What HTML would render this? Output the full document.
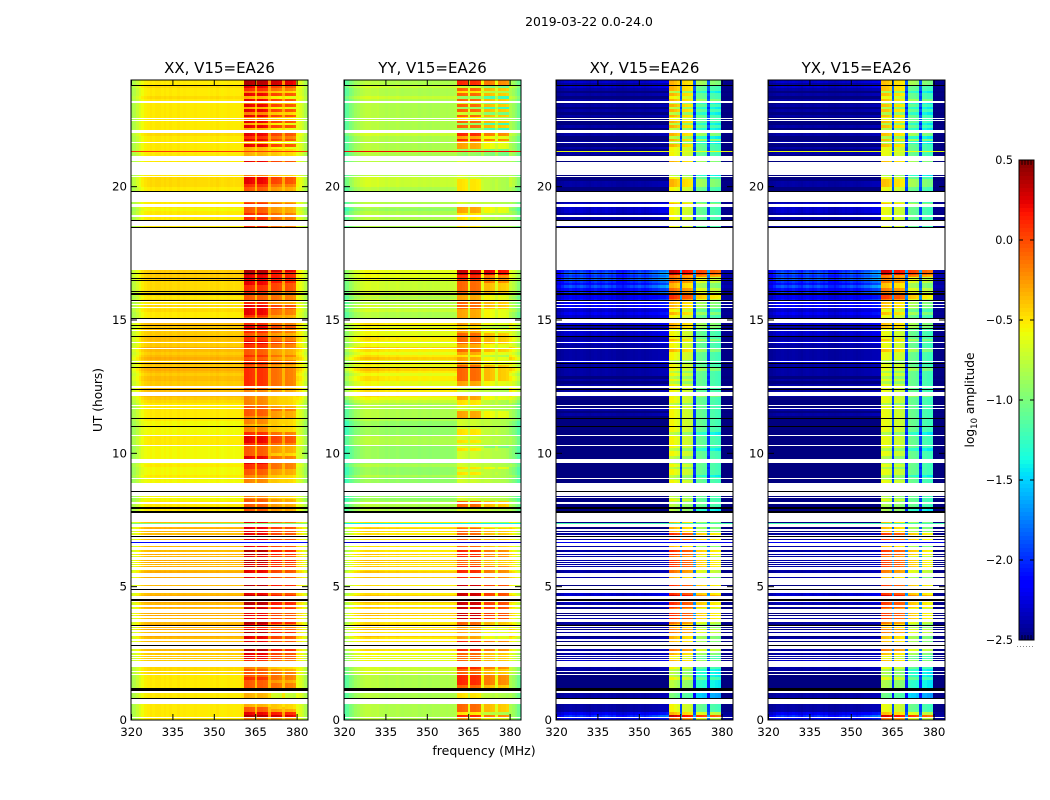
<!DOCTYPE html>
<html>
<head>
<meta charset="utf-8">
<title>2019-03-22 0.0-24.0</title>
<style>
html,body{margin:0;padding:0;background:#fff;width:1050px;height:800px;overflow:hidden}
svg{display:block}
text{font-family:"DejaVu Sans","Liberation Sans",sans-serif;fill:#000}
</style>
</head>
<body>
<svg id="chart" xmlns="http://www.w3.org/2000/svg" width="1050" height="800" viewBox="0 0 1050 800">
  <text x="589" y="26" font-size="12.4" text-anchor="middle">2019-03-22 0.0-24.0</text>
  <text x="0" y="0" font-size="12.2" text-anchor="middle" transform="translate(102,400) rotate(-90)">UT (hours)</text>
  <text x="484" y="755" font-size="12.5" text-anchor="middle">frequency (MHz)</text>
  <text x="0" y="0" font-size="12.2" text-anchor="middle" transform="translate(974,400) rotate(-90)">log<tspan font-size="8.5" dy="3">10</tspan><tspan dy="-3"> amplitude</tspan></text>
  <g id="panels"></g>
  <g id="colorbar"></g>
</svg>
<script>
// ---- axes ----
const xTickValues = [320, 335, 350, 365, 380];
const yTickValues = [0, 5, 10, 15, 20];
const colorbarTicks = [-2.5, -2, -1.5, -1, -0.5, 0, 0.5];
const colorbarLabels = ["\u22122.5", "\u22122.0", "\u22121.5", "\u22121.0", "\u22120.5", "0.0", "0.5"];
const panelTitles = ["XX, V15=EA26", "YY, V15=EA26", "XY, V15=EA26", "YX, V15=EA26"];
const channelKinds = "eeeeeeeeeeeeeeeeeeeeeeeeeeeeeeeeeeeeeeeeeaaaagaaaagbbbbgbbbbeeeee";

// ---- log10 amplitude by channel (baseline spectra) ----
const xxSpectrum = [-.85,-.8,-.72,-.65,-.58,-.54,-.52,-.5,-.52,-.5,-.5,-.52,-.5,-.52,-.5,-.52,-.52,-.5,-.52,-.51,-.52,-.52,-.52,-.51,-.52,-.52,-.52,-.52,-.53,-.51,-.52,-.5,-.52,-.53,-.52,-.51,-.52,-.53,-.52,-.52,-.5,-.18,-.18,-.2,-.22,-.42,-.2,-.2,-.22,-.24,-.42,-.26,-.26,-.28,-.3,-.45,-.3,-.32,-.32,-.36,-.6,-.65,-.72,-.82,-.92];
const yySpectrum = [-1.15,-1.1,-1,-.95,-.88,-.85,-.8,-.78,-.76,-.76,-.78,-.78,-.76,-.8,-.8,-.82,-.8,-.82,-.82,-.8,-.82,-.83,-.82,-.82,-.83,-.82,-.82,-.84,-.83,-.82,-.83,-.84,-.82,-.83,-.83,-.82,-.82,-.83,-.82,-.82,-.8,-.48,-.48,-.5,-.52,-.72,-.5,-.5,-.52,-.54,-.72,-.55,-.55,-.58,-.6,-.75,-.6,-.62,-.62,-.65,-.82,-.88,-.95,-1.05,-1.15];
const xySpectrum = [-2.5,-2.5,-2.5,-2.5,-2.5,-2.5,-2.5,-2.5,-2.5,-2.5,-2.5,-2.5,-2.5,-2.5,-2.5,-2.5,-2.5,-2.5,-2.5,-2.5,-2.5,-2.5,-2.5,-2.5,-2.5,-2.5,-2.5,-2.5,-2.5,-2.5,-2.5,-2.5,-2.5,-2.5,-2.5,-2.5,-2.5,-2.5,-2.5,-2.5,-2.5,-.55,-.55,-.6,-.65,-1.9,-.68,-.7,-.72,-.75,-1.95,-.85,-.85,-.88,-.9,-1.95,-.95,-.95,-.98,-1,-2.5,-2.5,-2.5,-2.5,-2.5];
const yxSpectrum = [-2.5,-2.5,-2.5,-2.5,-2.5,-2.5,-2.5,-2.5,-2.5,-2.5,-2.5,-2.5,-2.5,-2.5,-2.5,-2.5,-2.5,-2.5,-2.5,-2.5,-2.5,-2.5,-2.5,-2.5,-2.5,-2.5,-2.5,-2.5,-2.5,-2.5,-2.5,-2.5,-2.5,-2.5,-2.5,-2.5,-2.5,-2.5,-2.5,-2.5,-2.5,-.6,-.6,-.62,-.66,-1.9,-.7,-.7,-.74,-.76,-1.95,-.82,-.85,-.86,-.9,-1.95,-.96,-.96,-1,-1.02,-2.5,-2.5,-2.5,-2.5,-2.5];
const crossTexture = [.5,.6,.8,1,1,1.1,1,.9,1,1.1,1,.9,.8,1,1.1,1,.9,1,1.1,1,.9,1,.8,.8,.7,.8,.9,1,.9,1,1.1,1,.9,1,1.1,1.2,1.2,1.3,1.4,1.4,1.5,1,1,1,1,1,1,1,1,1,1,1,1,1,1,1,1,1,1,1,.25,.2,.2,.2,.2];

// ---- per-row levels: one string per hour, ten rows per string ----
const coLeftRows = ["5555555555","5555555666","7777778888","8989898989","9898989898","8989898989","9898989898","8989898555","5544444444","4544454444","4445555444","4455555556","7888877887","8978798789","7788778787","5556565656","6666677777","5555555555","5555555555","5455555455","6666555555","5555555556","5555555555","5556555655"];
const xxBlockA = ["5986643344","5566676665","7778889988","8898789988","8989999898","9988788989","8899889898","8888877665","6665655555","5566778886","6667888755","4555666655","5555677777","7767767667","7877677877","6788887666","7778888999","5555555555","5555577777","6667666666","7888555578","4444484878","8484858584","8584857899"];
const xxBlockB = ["5985443322","4566566654","6667778877","7787668877","8878888787","8877677878","7788778787","7777665554","5554544444","4455666664","5556777644","4445556544","4445566666","6656656556","6766566766","5566775666","6777888899","5555555555","4444466666","5556555555","6777444467","4444373767","7373747473","7473746799"];
const yyBlockA = ["6857775555","5778888778","7777778888","6666677899","9999999999","9988888877","8888877777","7766555447","7744444444","4454544544","4544544554","4446664455","6644466777","7776665676","6777766565","6666777666","7777788999","5555555555","4444455555","6664444455","5554444444","3333666868","7373757473","7473757488"];
const yyBlockB = ["5746664444","4667777667","6666667777","5555566788","8888888888","8877777766","7777766666","6655444446","6644444444","4444544444","4434444444","4445554444","5544455666","6665554565","5666655454","5555666555","6666777999","5555555555","4444444444","5554444444","4444444444","3333555757","6262646362","6362646377"];
const crossLeftRows = ["3531111111","0000000011","2221111000","1010101010","1011222224","0011111111","0111111111","0000000000","0000000000","0000000000","0000000000","0000101000","0101010101","1111211111","1211221122","2232333433","5464565655","0000000000","1100011111","2222111100","1100000000","0010101001","1010001010","1010101212"];
const crossBlockA = ["7965554433","3344454445","5565667766","6677667788","8788899888","8866777888","7788667878","6666655444","4454444455","4455454545","5455555455","5555555545","5555554545","4555455565","5565555666","5565666788","7766777999","5555555555","4444455555","5556555555","6665455566","4555564646","6464656464","6465646666"];
const crossBlockB = ["6964443322","2233343334","4454556655","5566556677","7677788777","7755666777","6677556767","5555544333","4444444444","4344444444","4344444344","4444444444","4544444444","4544444454","4454444555","4454555677","6655668999","5555555555","3333344444","4445444444","5554344455","3444443535","4343444343","4354434455"];

// ---- flagged time ranges and lines, in UT hours ----
const flaggedRanges = [[.08,.1],[.61,.8],[1.02,1.08],[1.69,1.73],[1.8,1.83],[1.99,2.21],[2.26,2.3],[2.34,2.37],[2.43,2.45],[2.5,2.57],[2.67,2.91],[2.95,3.03],[3.15,3.25],[3.29,3.39],[3.41,3.44],[3.5,3.54],[3.69,3.79],[3.81,3.9],[3.94,3.96],[4,4.17],[4.24,4.3],[4.41,4.66],[4.77,5.03],[5.06,5.34],[5.36,5.52],[5.64,5.74],[5.78,5.82],[5.85,5.89],[5.93,5.96],[6.01,6.1],[6.14,6.2],[6.24,6.3],[6.39,6.48],[6.53,6.59],[6.63,6.65],[6.675,6.74],[6.77,6.87],[6.9,6.95],[7,7.04],[7.1,7.16],[7.24,7.39],[7.43,7.77],[8.11,8.16],[8.34,8.36],[8.41,8.56],[8.59,8.89],[9.03,9.06],[9.65,9.68],[9.69,9.78],[10.29,10.31],[10.66,10.69],[11.67,11.71],[11.78,11.81],[12.16,12.31],[12.46,12.51],[13.43,13.45],[13.91,13.94],[14.15,14.18],[14.6,14.63],[14.88,15.05],[15.46,15.49],[15.57,15.6],[15.68,15.72],[16.875,18.46],[18.53,18.71],[18.85,18.93],[19.24,19.3],[19.33,19.36],[19.41,19.79],[20.36,20.39],[20.43,20.925],[20.96,21.15],[21.63,21.66],[22.02,22.07],[22.13,22.14],[22.46,22.5],[22.52,22.56],[23.13,23.2]];
const blackLineHours = [.81,2.79,3.55,4.9,6.89,8.58,11.01,11.31,12.4,13.23,13.36,14.39,14.67,14.78,15.06,15.72,15.94,16.01,16.06,16.49,16.56,16.75,18.48,18.74,19.83,23.8];
const blackBands = [[1.07,1.2],[4.47,4.54],[7.78,7.85],[7.91,7.98]];
const oddRowHours = [6.66, 7.36, 21.32];
const xxOddRows = [-2.1, -1, .05];
const yyOddRows = [-2.3, -1.4, .2];
const xyOddRows = [-2.2, -1.2, -.6];
const yxOddRows = [-2.2, -1.2, -.6];

// ---- layout and scales ----
const SVGNS = "http://www.w3.org/2000/svg";
const panelLeft = [131, 344, 556, 768];
const panelWidth = 177, axisTop = 80, axisBottom = 720;
function xScale(f, left) { return left + 0.5 + (f - 320) * 2.76; }
function yScale(h) { return axisBottom - h * (axisBottom - axisTop) / 24; }
function cbarY(v) { return 640 - (v + 2.5) * 160; }
function clamp(x) { return Math.max(0, Math.min(1, x)); }
function interp(t, pts) {
  for (let i = 1; i < pts.length; i++) {
    if (t <= pts[i][0]) {
      const a = pts[i - 1], b = pts[i];
      return a[1] + (b[1] - a[1]) * (t - a[0]) / (b[0] - a[0]);
    }
  }
  return pts[pts.length - 1][1];
}
function jet(v) {
  const t = clamp((v + 2.5) / 3);
  const r = interp(t, [[0,0],[.35,0],[.66,1],[.89,1],[1,.5]]);
  const g = interp(t, [[0,0],[.125,0],[.375,1],[.64,1],[.91,0],[1,0]]);
  const b = interp(t, [[0,.5],[.11,1],[.34,1],[.65,0],[1,0]]);
  return "rgb(" + Math.round(r * 255) + "," + Math.round(g * 255) + "," + Math.round(b * 255) + ")";
}
function digit(rows, r) {
  return +rows[Math.floor(r / 10)].charAt(r % 10);
}
function make(tag, attrs, parent) {
  const el = document.createElementNS(SVGNS, tag);
  for (const k in attrs) el.setAttribute(k, attrs[k]);
  parent.appendChild(el);
  return el;
}

// value of a cell for each polarisation
function cellValue(p, r, i) {
  const kind = channelKinds.charAt(i);
  const spectrum = [xxSpectrum, yySpectrum, xySpectrum, yxSpectrum][p];
  if (p < 2) {
    const left = digit(coLeftRows, r) - 5;
    const scale = p === 0 ? .05 : .1;
    const A = p === 0 ? xxBlockA : yyBlockA;
    const B = p === 0 ? xxBlockB : yyBlockB;
    const step = p === 0 ? .14 : .2;
    if (kind === "e") return spectrum[i] + left * scale;
    if (kind === "a") return spectrum[i] + (digit(A, r) - 5) * step;
    if (kind === "b") return spectrum[i] + (digit(B, r) - 5) * step;
    return spectrum[i] + (digit(A, r) - 5) * .05;
  }
  if (kind === "e") return spectrum[i] + digit(crossLeftRows, r) * .1 * crossTexture[i];
  if (kind === "a") return spectrum[i] + (digit(crossBlockA, r) - 5) * .22;
  if (kind === "b") return spectrum[i] + (digit(crossBlockB, r) - 5) * .22;
  return spectrum[i] + (digit(crossBlockA, r) - 5) * .08;
}

const panelsRoot = document.getElementById("panels");
const defs = make("defs", {}, panelsRoot);

panelTitles.forEach(function (title, p) {
  const L = panelLeft[p], R = L + panelWidth;
  const g = make("g", {}, panelsRoot);
  
  

  const clip = make("clipPath", { id: "clip" + p }, defs);
  make("rect", { x: L, y: axisTop, width: panelWidth, height: axisBottom - axisTop }, clip);

  const heat = make("g", { "clip-path": "url(#clip" + p + ")", "shape-rendering": "crispEdges" }, g);
  
  

  // heatmap cells, merged along a row where neighbouring cells share a colour
  const rowCount = 240, chanCount = channelKinds.length;
  for (let r = 0; r < rowCount; r++) {
    const yTop = Math.round(yScale((r + 1) / 10)), yBot = Math.round(yScale(r / 10));
    let start = 0, col = jet(cellValue(p, r, 0));
    for (let i = 1; i <= chanCount; i++) {
      const c = i < chanCount ? jet(cellValue(p, r, i)) : null;
      if (c !== col) {
        const x0 = Math.round(xScale(319.6 + start, L)), x1 = Math.round(xScale(319.6 + i, L));
        const cell = make("rect", { x: x0, y: yTop, width: x1 - x0, height: yBot - yTop, fill: col }, heat);
        
        
        start = i; col = c;
      }
    }
  }

  // flagged (white) ranges
  flaggedRanges.forEach(function (rg) {
    const yTop = Math.round(yScale(rg[1]));
    const h = Math.max(1, Math.round(yScale(rg[0])) - yTop);
    const band = make("rect", { x: L, y: yTop, width: panelWidth, height: h, fill: "#fff" }, heat);
    
    
  });

  // single outlier rows
  const oddValues = [xxOddRows, yyOddRows, xyOddRows, yxOddRows][p];
  oddRowHours.forEach(function (h, k) {
    const line = make("rect", { x: L, y: Math.floor(yScale(h)), width: panelWidth, height: 1, fill: jet(oddValues[k]) }, heat);
    
    
  });

  // black lines
  blackLineHours.forEach(function (h) {
    const line = make("rect", { x: L, y: Math.floor(yScale(h)), width: panelWidth, height: 1, fill: "#000" }, heat);
    
    
  });
  blackBands.forEach(function (b) {
    const yTop = Math.round(yScale(b[1]));
    const band = make("rect", { x: L, y: yTop, width: panelWidth, height: Math.max(1, Math.round(yScale(b[0])) - yTop), fill: "#000" }, heat);
    
    
  });

  // frame
  const frame = make("rect", { x: L, y: axisTop, width: panelWidth, height: axisBottom - axisTop, fill: "none", stroke: "#000", "stroke-width": 1 }, g);
  
  

  // x ticks
  xTickValues.forEach(function (f) {
    const x = xScale(f, L);
    const t1 = make("line", { x1: x, x2: x, y1: axisBottom, y2: axisBottom - 6, stroke: "#000", "stroke-width": 1 }, g);
    
    
    const t2 = make("line", { x1: x, x2: x, y1: axisTop, y2: axisTop + 6, stroke: "#000", "stroke-width": 1 }, g);
    
    
    const lab = make("text", { x: x, y: 736, "font-size": 11.8, "text-anchor": "middle" }, g);
    lab.textContent = String(f);
    
    
  });

  // y ticks
  yTickValues.forEach(function (h) {
    const y = yScale(h);
    const t1 = make("line", { x1: L, x2: L + 6, y1: y, y2: y, stroke: "#000", "stroke-width": 1 }, g);
    
    
    const t2 = make("line", { x1: R, x2: R - 6, y1: y, y2: y, stroke: "#000", "stroke-width": 1 }, g);
    
    
    const lab = make("text", { x: L - 4, y: y + 4, "font-size": 11.8, "text-anchor": "end" }, g);
    lab.textContent = String(h);
    
    
  });

  const ttl = make("text", { x: L + panelWidth / 2, y: 73, "font-size": 15, "text-anchor": "middle" }, g);
  ttl.textContent = title;
  
  
});

// ---- colorbar ----
const cb = document.getElementById("colorbar");
const cbL = 1019, cbW = 15;
const cbSteps = 120;
for (let i = 0; i < cbSteps; i++) {
  const v0 = -2.5 + 3 * i / cbSteps, v1 = -2.5 + 3 * (i + 1) / cbSteps;
  const seg = make("rect", { x: cbL, y: Math.round(cbarY(v1)), width: cbW, height: 4, fill: jet((v0 + v1) / 2), "shape-rendering": "crispEdges" }, cb);
  
  
}
const cbFrame = make("rect", { x: cbL, y: 160, width: cbW, height: 480, fill: "none", stroke: "#000", "stroke-width": 1 }, cb);


colorbarTicks.forEach(function (v, k) {
  const y = cbarY(v);
  const t1 = make("line", { x1: cbL, x2: cbL + 4, y1: y, y2: y, stroke: "#000" }, cb);
  
  
  const t2 = make("line", { x1: cbL + cbW, x2: cbL + cbW - 4, y1: y, y2: y, stroke: "#000" }, cb);
  
  
  const lab = make("text", { x: 1013, y: y + 4.2, "font-size": 11.2, "text-anchor": "end" }, cb);
  lab.textContent = colorbarLabels[k];
  
  
});
for (let k = 1; k <= 4; k++) {
  const x = cbL + 3 * k;
  const top = make("line", { x1: x, x2: x, y1: 160, y2: 165, stroke: "#000", "stroke-opacity": .8 }, cb);
  
  
  const bot = make("line", { x1: x, x2: x, y1: 640, y2: 635, stroke: "#000", "stroke-opacity": .8 }, cb);
  
  
}
const dots = make("line", { x1: 1017, x2: 1035, y1: 646.5, y2: 646.5, stroke: "#888", "stroke-width": 1, "stroke-dasharray": "1 2" }, cb);


</script>
</body>
</html>
